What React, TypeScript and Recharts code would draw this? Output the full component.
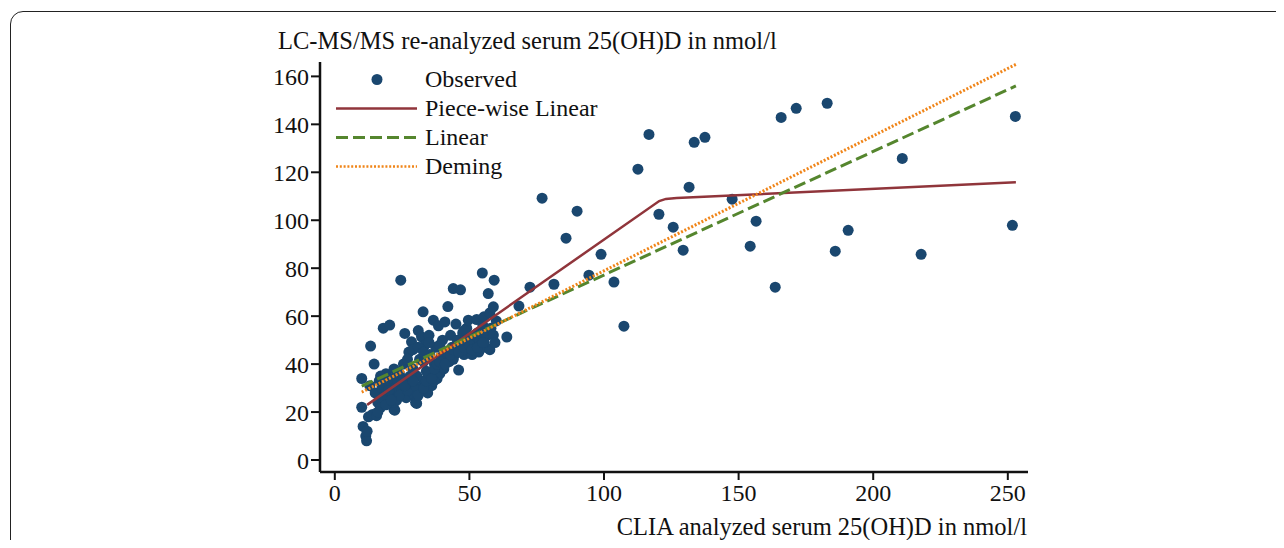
import { ScatterChart, Scatter, XAxis, YAxis, Legend } from "recharts";

// observed pairs: CLIA (x) vs LC-MS/MS (y), nmol/l
const observedX = [
  10, 10, 10.5, 11.5, 11.8, 12, 12.5, 13, 13.3, 14, 14.6, 15.5, 15, 16, 16.5,
  17, 17.5, 18, 18.5, 19, 19.5, 20, 20.4, 21, 21.5, 22, 22.3, 22, 22.5,
  23, 23.5, 24, 24.5, 25, 25.5, 26, 26.5, 27, 27.5, 28, 28.5, 29, 29.5, 30, 30.4, 30.5, 31, 31.5, 32,
  32.2, 32.8, 33, 33.5, 34, 34.5, 35, 35.3, 36, 36.6, 37, 37.5, 38, 38.5, 39, 39.5, 40, 40.5, 40.9, 41.5,
  42, 42.5, 43, 43.5, 44, 44.5, 45, 45.5, 46, 46.7, 47, 47.5, 48, 48.5, 49, 49.6, 50, 50.5,
  51, 52, 52.7, 53, 53.5, 54, 54.8, 55, 55.4, 56, 56.5, 57, 57.6, 57.6, 58, 58.9, 58.9, 59.2, 59.5, 60,
  42.4, 47.6, 52.4, 36.8, 44, 26, 33, 20.5, 17, 39, 48, 55.5,
  18, 20, 22, 24, 25, 27, 28, 30, 31, 33, 34, 35, 36, 37, 38, 39, 41, 43, 44, 46, 48, 50, 51, 53, 55,
  16, 19, 21, 26, 29, 27, 29, 31, 33, 35,
  63.9, 68.4, 72.5, 77, 81.4, 85.9, 90, 94.4, 98.9, 103.7, 107.4, 112.6, 116.7, 120.4, 125.7,
  129.4, 131.6, 133.5, 137.5, 147.6, 154.3, 156.5, 163.6, 165.8, 171.4, 182.9, 185.9, 190.7,
  210.8, 217.8, 251.7, 252.8,
];
const observedY = [
  34, 22, 14, 10, 8, 12, 18, 31, 47.5, 19, 40, 18.5, 28, 24, 33,
  22, 30, 55, 27, 36, 24, 32, 56.3, 28, 34, 21, 20.8, 38, 30,
  25, 33, 36, 75, 29, 40, 52.8, 26, 34, 45, 31, 49.3, 38, 27, 24, 23.6, 35, 54, 42, 29,
  51.4, 61.8, 33, 48, 37, 28, 52, 44, 31, 58.3, 40, 47, 34, 56, 36, 43, 50, 38, 57.6, 45,
  64, 41, 52, 47, 71.5, 44, 56.7, 50, 37.5, 71, 46, 53, 44, 49, 55, 58.3, 46, 51,
  44, 48, 58.6, 53, 45, 50, 78, 56, 59.7, 47, 52, 69.4, 61.4, 46, 55, 63.9, 52.1, 75, 49, 58,
  44.6, 45.8, 45.8, 33, 42, 32, 41, 26, 35, 48, 54, 49,
  26, 29, 24, 27, 33, 29, 35, 31, 27, 30, 33, 36, 34, 38, 40, 41, 40, 44, 46, 45, 47, 48, 46, 47, 49,
  20, 23, 25, 31, 33, 42, 46, 47, 45, 49,
  51.3, 64.2, 72.1, 109.2, 73.3, 92.5, 103.8, 77.1, 85.8, 74.2, 55.8, 121.3, 135.8, 102.5, 97.1,
  87.5, 113.8, 132.5, 134.6, 108.8, 89.2, 99.6, 72.1, 142.9, 146.7, 148.8, 87.1, 95.8,
  125.8, 85.8, 97.9, 143.3,
];

// fitted lines
const pieceX = [12, 120.5, 123, 127, 253];
const pieceY = [23, 108, 108.9, 109.3, 115.8];
const linearX = [10, 253];
const linearY = [30.8, 156];
const demingX = [10, 253];
const demingY = [28.3, 165];

const xTicks = [0, 50, 100, 150, 200, 250];
const yTicks = [0, 20, 40, 60, 80, 100, 120, 140, 160];

const zip = (xs: number[], ys: number[]) => xs.map((x, i) => ({ x, y: ys[i] }));

const observed = zip(observedX, observedY);
const piece = zip(pieceX, pieceY);
const linear = zip(linearX, linearY);
const deming = zip(demingX, demingY);

const FONT = '"Liberation Serif", "Times New Roman", serif';
const NAVY = "#1a476f";
const MAROON = "#90353b";
const GREEN = "#55862e";
const ORANGE = "#f08519";

const noShape = () => <g />;

const legendRows = [
  { label: "Observed", kind: "dot" },
  { label: "Piece-wise Linear", kind: "solid" },
  { label: "Linear", kind: "dash" },
  { label: "Deming", kind: "dot-line" },
];

function LegendBox() {
  return (
    <div style={{ fontFamily: FONT, fontSize: 24, color: "#111" }}>
      {legendRows.map((r) => (
        <div key={r.label} style={{ display: "flex", alignItems: "center", height: 29 }}>
          <svg width={81} height={29} style={{ marginRight: 8 }}>
            {r.kind === "dot" && <circle cx={41} cy={14.5} r={5.5} fill={NAVY} />}
            {r.kind === "solid" && <line x1={0} x2={81} y1={14.5} y2={14.5} stroke={MAROON} strokeWidth={2.5} />}
            {r.kind === "dash" && (
              <line x1={0} x2={81} y1={14.5} y2={14.5} stroke={GREEN} strokeWidth={3} strokeDasharray="12 5" />
            )}
            {r.kind === "dot-line" && (
              <line x1={0} x2={81} y1={14.5} y2={14.5} stroke={ORANGE} strokeWidth={2.5} strokeDasharray="2 1.8" />
            )}
          </svg>
          <span style={{ lineHeight: "29px", whiteSpace: "nowrap" }}>{r.label}</span>
        </div>
      ))}
    </div>
  );
}

const tickStyle = { fontFamily: FONT, fontSize: 24, fill: "#111" };
const titleStyle = { fontFamily: FONT, fontSize: 24.5, fill: "#111" };

export default function App() {
  return (
    <div style={{ position: "relative", width: 1268, height: 532, overflow: "hidden" }}>
      <div
        style={{
          position: "absolute",
          left: 1.5,
          top: 3,
          width: 1400,
          height: 700,
          border: "1.5px solid #222",
          borderRadius: 13,
          boxSizing: "border-box",
        }}
      />
      <div style={{ position: "absolute", left: 0, top: 0 }}>
        <ScatterChart width={1268} height={532} margin={{ top: 54, right: 248, bottom: 38, left: 252 }}>
          <XAxis
            type="number"
            dataKey="x"
            domain={[-5.5, 257.5]}
            ticks={xTicks}
            allowDataOverflow
            height={30}
            tick={tickStyle}
            tickSize={8}
            tickMargin={4}
            axisLine={{ stroke: "#111", strokeWidth: 2.5 }}
            tickLine={{ stroke: "#111", strokeWidth: 2 }}
            label={() => (
              <text x={1019} y={518} textAnchor="end" dominantBaseline="central" style={titleStyle}>
                CLIA analyzed serum 25(OH)D in nmol/l
              </text>
            )}
          />
          <YAxis
            type="number"
            dataKey="y"
            domain={[-5, 166]}
            ticks={yTicks}
            allowDataOverflow
            width={60}
            tick={tickStyle}
            tickSize={9}
            tickMargin={2}
            axisLine={{ stroke: "#111", strokeWidth: 2.5 }}
            tickLine={{ stroke: "#111", strokeWidth: 2 }}
            label={() => (
              <text x={270} y={32} textAnchor="start" dominantBaseline="central" style={titleStyle}>
                LC-MS/MS re-analyzed serum 25(OH)D in nmol/l
              </text>
            )}
          />
          <Legend
            layout="vertical"
            align="center"
            verticalAlign="middle"
            content={() => <LegendBox />}
            wrapperStyle={{ position: "absolute", left: 328, top: 56.5, width: "auto" }}
          />
          <Scatter data={observed} fill={NAVY} isAnimationActive={false} shape={(p: any) => (
            <circle cx={p.cx} cy={p.cy} r={5.5} fill={NAVY} />
          )} />
          <Scatter
            data={piece}
            line={{ stroke: MAROON, strokeWidth: 2.5 }}
            lineType="joint"
            shape={noShape}
            isAnimationActive={false}
          />
          <Scatter
            data={linear}
            line={{ stroke: GREEN, strokeWidth: 3, strokeDasharray: "12 5" }}
            lineType="joint"
            shape={noShape}
            isAnimationActive={false}
          />
          <Scatter
            data={deming}
            line={{ stroke: ORANGE, strokeWidth: 3, strokeDasharray: "2 1.8" }}
            lineType="joint"
            shape={noShape}
            isAnimationActive={false}
          />
        </ScatterChart>
      </div>
    </div>
  );
}
